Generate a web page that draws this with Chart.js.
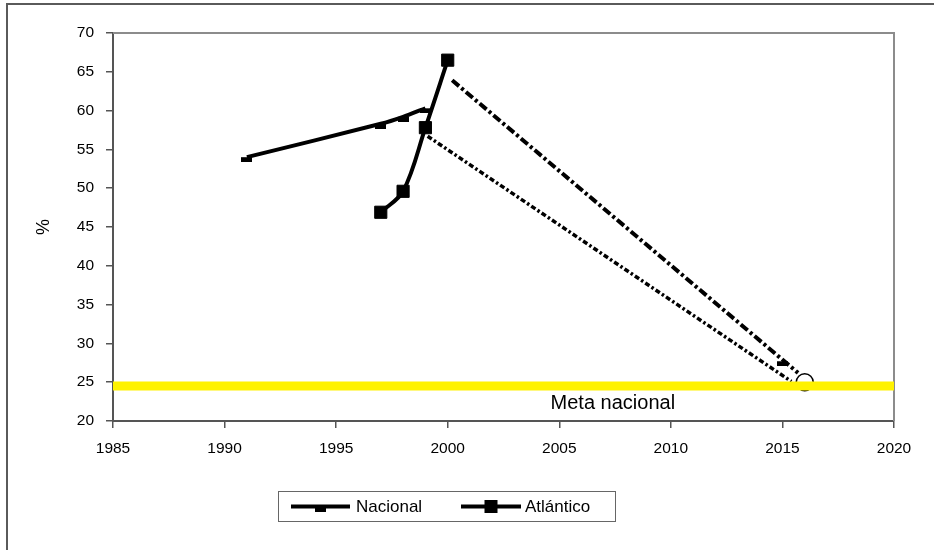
<!DOCTYPE html>
<html>
<head>
<meta charset="utf-8">
<script src="https://cdn.jsdelivr.net/npm/chart.js@4.4.0/dist/chart.umd.min.js"></script>
<style>
  html, body { margin: 0; padding: 0; background: #fff; overflow: hidden; }
  #wrap { position: relative; width: 934px; height: 550px; }
  #frame { position: absolute; left: 6px; top: 3px; width: 960px; height: 580px;
           border-top: 2px solid #5a5a5a; border-left: 2px solid #5a5a5a; box-sizing: border-box; pointer-events: none; }
  canvas { position: absolute; left: 0; top: 0; }
</style>
</head>
<body>
<div id="wrap">
  <canvas id="chart" width="934" height="550"></canvas>
  <div id="frame"></div>
</div>
<script>
// Axis ticks
const xTicks = [1985, 1990, 1995, 2000, 2005, 2010, 2015, 2020];
const yTicks = [20, 25, 30, 35, 40, 45, 50, 55, 60, 65, 70];

// Nacional (empty cell in 2000 breaks the line before the 2015 value)
const nacionalYears  = [1991, 1997, 1998, 1999, 2000, 2015];
const nacionalValues = [54.0, 58.3, 59.2, 60.3, null, 27.7];

// Atlántico
const atlanticoYears  = [1997, 1998, 1999, 2000];
const atlanticoValues = [46.9, 49.6, 57.8, 66.5];

// Projections towards the 2016 goal
const projUpperYears  = [2000.2, 2015.7];
const projUpperValues = [63.9, 26.2];
const projLowerYears  = [1999.1, 2015.4];
const projLowerValues = [56.7, 25.1];

// Goal point and national goal band
const goalYears  = [2016];
const goalValues = [25];
const metaYears  = [1985, 2020];
const metaValues = [24.5, 24.5];

const labels = { nacional: 'Nacional', atlantico: 'Atlántico', meta: 'Meta nacional', yTitle: '%' };

const FONT = '"Liberation Sans", Arial, sans-serif';

function pts(xs, ys) { return xs.map((x, i) => ({ x: x, y: ys[i] })); }

// Small "dash" marker sitting under the line
function dashMarker() {
  const c = document.createElement('canvas');
  c.width = 11; c.height = 10;
  const g = c.getContext('2d');
  g.fillStyle = '#000';
  g.fillRect(0, 5, 11, 5);
  return c;
}
const dashImg = dashMarker();

const frameAndText = {
  id: 'frameAndText',
  beforeDatasetsDraw(chart) {
    const { ctx, chartArea: a } = chart;
    ctx.save();
    ctx.strokeStyle = '#8c8c8c';
    ctx.lineWidth = 2;
    ctx.beginPath();
    ctx.moveTo(a.left, a.top);
    ctx.lineTo(a.right, a.top);
    ctx.lineTo(a.right, a.bottom);
    ctx.stroke();
    ctx.restore();
  },
  afterDraw(chart) {
    const { ctx, scales } = chart;
    ctx.save();
    // goal caption under the band
    ctx.fillStyle = '#000';
    ctx.font = '20px ' + FONT;
    ctx.textAlign = 'center';
    ctx.textBaseline = 'middle';
    ctx.fillText(labels.meta, scales.x.getPixelForValue(2007.4), scales.y.getPixelForValue(22.2));

    // legend box
    const bx = 278.5, by = 491.5, bw = 337, bh = 30;
    ctx.strokeStyle = '#666';
    ctx.lineWidth = 1;
    ctx.strokeRect(bx, by, bw, bh);
    const cy = by + bh / 2;
    ctx.font = '17px ' + FONT;
    ctx.textAlign = 'left';
    // Nacional sample
    ctx.strokeStyle = '#000';
    ctx.lineWidth = 4;
    ctx.beginPath(); ctx.moveTo(291, cy); ctx.lineTo(350, cy); ctx.stroke();
    ctx.drawImage(dashImg, 320 - 5.5, cy - 5);
    ctx.fillText(labels.nacional, 356, cy + 1);
    // Atlántico sample
    ctx.beginPath(); ctx.moveTo(461, cy); ctx.lineTo(521, cy); ctx.stroke();
    ctx.fillRect(491 - 6.5, cy - 6.5, 13, 13);
    ctx.fillText(labels.atlantico, 525, cy + 1);
    ctx.restore();
  }
};

new Chart(document.getElementById('chart'), {
  type: 'line',
  data: {
    datasets: [
      {
        label: labels.meta,
        data: pts(metaYears, metaValues),
        borderColor: '#fff200',
        borderWidth: 9,
        pointRadius: 0,
        order: -1
      },
      {
        label: labels.atlantico,
        data: pts(atlanticoYears, atlanticoValues),
        borderColor: '#000',
        borderWidth: 4,
        tension: 0.35,
        pointStyle: 'rect',
        pointRadius: 8.6,
        pointBackgroundColor: '#000',
        pointBorderColor: '#000',
        pointBorderWidth: 1
      },
      {
        label: labels.nacional,
        data: pts(nacionalYears, nacionalValues),
        borderColor: '#000',
        borderWidth: 4,
        tension: 0.25,
        spanGaps: false,
        pointStyle: dashImg,
        pointRadius: 5
      },
      {
        label: 'proj1',
        data: pts(projUpperYears, projUpperValues),
        borderColor: '#000',
        borderWidth: 4,
        borderDash: [9, 3, 3, 3],
        pointRadius: 0
      },
      {
        label: 'proj2',
        data: pts(projLowerYears, projLowerValues),
        borderColor: '#000',
        borderWidth: 3.5,
        borderDash: [5, 2.5, 2.5, 2.5],
        pointRadius: 0
      },
      {
        label: 'goal',
        data: pts(goalYears, goalValues),
        showLine: false,
        pointStyle: 'circle',
        pointRadius: 8.5,
        pointBackgroundColor: '#fff',
        pointBorderColor: '#000',
        pointBorderWidth: 1.5
      }
    ]
  },
  options: {
    responsive: false,
    animation: false,
    events: [],
    layout: { padding: { left: 0, top: 33, right: 40, bottom: 0 } },
    plugins: { legend: { display: false }, tooltip: { enabled: false } },
    scales: {
      x: {
        type: 'linear',
        min: 1985, max: 2020,
        afterBuildTicks(s) { s.ticks = xTicks.map(v => ({ value: v })); },
        afterFit(s) { s.height = 129; },
        border: { display: true, color: '#555', width: 2 },
        grid: { display: true, drawOnChartArea: false, drawTicks: true, tickLength: 7, color: '#555', lineWidth: 1.5 },
        ticks: { color: '#000', padding: 11, maxRotation: 0, font: { family: FONT, size: 15.5 }, callback: v => String(v) }
      },
      y: {
        type: 'linear',
        min: 20, max: 70,
        afterBuildTicks(s) { s.ticks = yTicks.map(v => ({ value: v })); },
        afterFit(s) { s.width = 113; },
        border: { display: true, color: '#555', width: 2 },
        grid: { display: true, drawOnChartArea: false, drawTicks: true, tickLength: 7, color: '#555', lineWidth: 1.5 },
        ticks: { color: '#000', padding: 12, font: { family: FONT, size: 15.5 }, callback: v => String(v) },
        title: { display: true, text: labels.yTitle, color: '#000', font: { family: FONT, size: 18 }, padding: { top: 33, bottom: 0 } }
      }
    }
  },
  plugins: [frameAndText]
});
</script>
</body>
</html>
